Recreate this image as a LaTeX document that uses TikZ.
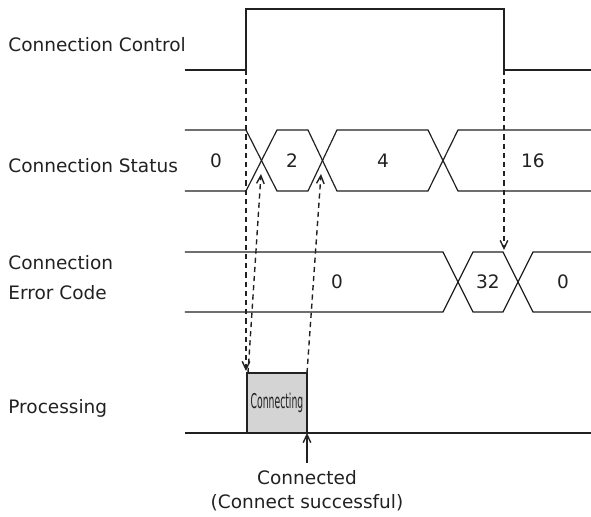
\documentclass[tikz,border=0pt]{standalone}
\usepackage{fontspec}
\setmainfont{DejaVu Sans}
\usepackage{xcolor}
\usetikzlibrary{arrows.meta,positioning,backgrounds}
\pgfdeclarelayer{edgelayer}
\pgfdeclarelayer{nodelayer}
\pgfsetlayers{background,edgelayer,nodelayer,main}
\definecolor{ink}{rgb}{0.13,0.13,0.13}
\tikzstyle{none}=[inner sep=0mm]
\tikzstyle{lbl}=[inner sep=0mm,anchor=west,align=left,text=ink]
\tikzstyle{val}=[inner sep=0mm,text=ink]
\tikzstyle{sig}=[line width=1pt,draw=ink]
\tikzstyle{bus}=[line width=0.6pt,draw=ink]
\tikzstyle{dashedge}=[line width=0.7pt,draw=ink,dash pattern=on 2.6pt off 2pt,-{Straight Barb[length=4pt,width=3.8pt]}]
\tikzstyle{solidedge}=[line width=0.7pt,draw=ink,-{Straight Barb[length=4pt,width=3.8pt]}]
\tikzstyle{procbox}=[draw=ink,line width=0.6pt,fill={rgb,255:red,212;green,212;blue,212}]
\begin{document}
\begin{tikzpicture}[x=0.5pt,y=-0.5pt,font={\fontsize{9.25}{15}\selectfont}]
	\useasboundingbox (0,0) rectangle (591,517);
	\begin{pgfonlayer}{nodelayer}
		\node [style=lbl] (0) at (8,45) {Connection Control};
		\node [style=lbl] (1) at (8,166) {Connection Status};
		\node [style=lbl] (2) at (8,278) {Connection\\Error Code};
		\node [style=lbl] (3) at (8,408) {Processing};
		\node [style=val] (4) at (216,161) {0};
		\node [style=val] (5) at (292,161) {2};
		\node [style=val] (6) at (383,161) {4};
		\node [style=val] (7) at (533,161) {16};
		\node [style=val] (8) at (337,282) {0};
		\node [style=val] (9) at (488,282) {32};
		\node [style=val] (10) at (563,282) {0};
		\node [style=none] (11) at (246,70) {};
		\node [style=none] (12) at (246,371) {};
		\node [style=none] (13) at (248,373) {};
		\node [style=none] (14) at (261,174) {};
		\node [style=none] (15) at (307,373) {};
		\node [style=none] (16) at (321,174) {};
		\node [style=none] (17) at (504,70) {};
		\node [style=none] (18) at (504,250) {};
		\node [style=none] (19) at (307,463) {};
		\node [style=none] (20) at (307,433) {};
		\node [style=val] (21) at (307,478) {Connected};
		\node [style=val, below=4pt of 21] (22) {(Connect successful)};
	\end{pgfonlayer}
	% waveforms
	\draw [style=sig] (185,70) -- (246,70) -- (246,9.5) -- (504,9.5) -- (504,70) -- (591,70);
	\draw [style=bus] (185,130) -- (246,130) -- (277,191) -- (308,191) -- (337,130) -- (428,130) -- (458,191) -- (591,191);
	\draw [style=bus] (185,191) -- (246,191) -- (277,130) -- (308,130) -- (337,191) -- (428,191) -- (458,130) -- (591,130);
	\draw [style=bus] (185,252) -- (443,252) -- (473,312) -- (503,312) -- (533,252) -- (591,252);
	\draw [style=bus] (185,312) -- (443,312) -- (473,252) -- (503,252) -- (533,312) -- (591,312);
	\draw [style=procbox] (247,433) rectangle (307,373);
	\node [style=val] (23) at (277,403) {\scalebox{0.5}[1.1]{Connecting}};
	\draw [style=bus, line width=0.8pt] (185,433) -- (591,433);
	\begin{pgfonlayer}{edgelayer}
		\draw [style=dashedge] (11.center) to (12.center);
		\draw [style=dashedge] (13.center) to (14.center);
		\draw [style=dashedge] (15.center) to (16.center);
		\draw [style=dashedge] (17.center) to (18.center);
		\draw [style=solidedge] (19.center) to (20.center);
	\end{pgfonlayer}
\end{tikzpicture}
\end{document}
